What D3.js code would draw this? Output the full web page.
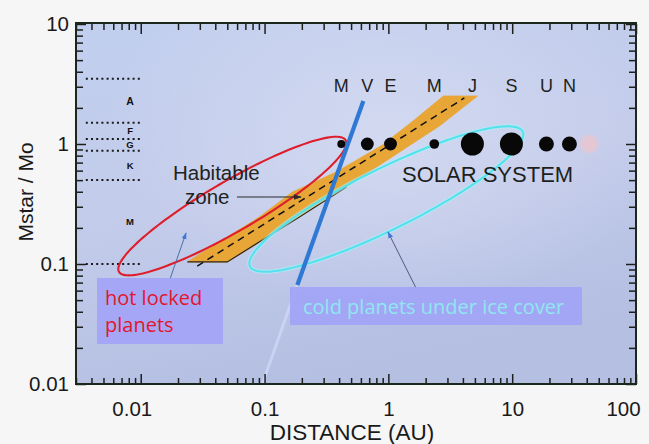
<!DOCTYPE html>
<html>
<head>
<meta charset="utf-8">
<script src="https://cdn.jsdelivr.net/npm/d3@7"></script>
<style>
  html, body { margin: 0; padding: 0; background: #f6f6f7; }
  svg { display: block; }
</style>
</head>
<body>
<svg id="chart" width="649" height="444"></svg>
<script>
// Orbital distance (AU) against stellar mass (solar masses), log-log.
const xTickValues = [0.01, 0.1, 1, 10, 100];
const xTickLabels = ["0.01", "0.1", "1", "10", "100"];
const yTickValues = [0.01, 0.1, 1, 10];
const yTickLabels = ["0.01", "0.1", "1", "10"];

// Spectral classes: mass boundaries and names
const classBounds = [3.5, 1.5, 1.1, 0.88, 0.5, 0.1];
const classNames = ["A", "F", "G", "K", "M"];
const classLineDist = [0.0036, 0.0102];
const classLabelDist = 0.0082;

// Solar system planets (Sun = 1 solar mass)
const planetNames = ["M", "V", "E", "M", "J", "S", "U", "N"];
const planetDist = [0.417, 0.676, 1.04, 2.35, 4.77, 9.86, 18.9, 29];
const planetRelSize = [0.35, 0.56, 0.56, 0.42, 1, 1, 0.65, 0.65];
const sunMass = 1;
const plutoDist = 42;

// Habitable zone band: inner edge (bottom to top) and outer edge (top to bottom)
const hzInnerDist = [0.0238, 0.0338, 0.0907, 0.168, 0.380, 0.895, 1.62, 2.78];
const hzInnerMass = [0.104, 0.131, 0.246, 0.398, 0.585, 0.98, 1.585, 2.51];
const hzOuterDist = [5.24, 2.58, 1.23, 0.458, 0.191, 0.050];
const hzOuterMass = [2.51, 1.41, 0.858, 0.438, 0.246, 0.104];
const hzCenterDist = [0.0286, 4.11];
const hzCenterMass = [0.096, 2.42];

// Tidal locking limit
const lockDist = [0.628, 0.184];
const lockMass = [2.28, 0.0668];
const lockFaintDist = [0.184, 0.096];
const lockFaintMass = [0.0668, 0.01];

// Planet regimes outlined as ellipses in log space (centre, semi-axes in decades, tilt in degrees)
const hotRegion = { dist: 0.0549, mass: 0.304, a: 1.067, b: 0.207, angle: 31.0 };
const coldRegion = { dist: 0.963, mass: 0.348, a: 1.236, b: 0.252, angle: 27.1 };

const svg = d3.select("#chart");

const x = d3.scaleLog().domain([0.003, 100]).range([76, 636]);
const y = d3.scaleLog().domain([0.01, 10]).range([384, 24]);
const r = d3.scaleLinear().domain([0, 1]).range([0, 11.5]);

const sansFont = "'Liberation Sans', Arial, Helvetica, sans-serif";
const labelFont = "'Open Sans', 'Noto Sans', sans-serif";
const ink = "#1d1f1d";

const defs = svg.append("defs");
const bg = defs.append("linearGradient").attr("id", "bg")
  .attr("x1", 0).attr("y1", 0).attr("x2", 0.3).attr("y2", 1);
bg.append("stop").attr("offset", "0%").attr("stop-color", "#c1cfee");
bg.append("stop").attr("offset", "55%").attr("stop-color", "#c3cbea");
bg.append("stop").attr("offset", "100%").attr("stop-color", "#b4bfe2");
const glow = defs.append("radialGradient").attr("id", "glow")
  .attr("cx", 0.55).attr("cy", 0.3).attr("r", 0.5);
glow.append("stop").attr("offset", "0%").attr("stop-color", "#d6dcf2").attr("stop-opacity", 0.8);
glow.append("stop").attr("offset", "100%").attr("stop-color", "#d6dcf2").attr("stop-opacity", 0);
const blur = defs.append("filter").attr("id", "soft").attr("x", "-50%").attr("y", "-50%").attr("width", "200%").attr("height", "200%");
blur.append("feGaussianBlur").attr("stdDeviation", 1.8);

function arrowMarker(id, color) {
  defs.append("marker").attr("id", id)
    .attr("viewBox", "0 0 10 10").attr("refX", 9).attr("refY", 5)
    .attr("markerWidth", 7).attr("markerHeight", 7).attr("orient", "auto")
    .append("path").attr("d", "M0,1.5 L10,5 L0,8.5 Z").attr("fill", color);
}
arrowMarker("arrDark", "#2b2b2b");
arrowMarker("arrBlue", "#3f78d6");

const [x0, x1] = x.range();
const [yb, yt] = y.range();

// Plot background
svg.append("rect").attr("x", x0).attr("y", yt).attr("width", x1 - x0).attr("height", yb - yt).attr("fill", "url(#bg)");
svg.append("rect").attr("x", x0).attr("y", yt).attr("width", x1 - x0).attr("height", yb - yt).attr("fill", "url(#glow)");

const line = d3.line().x(d => x(d[0])).y(d => y(d[1]));
const zip = (a, b) => a.map((v, i) => [v, b[i]]);

// Spectral class boundaries
svg.append("g").selectAll("line").data(classBounds).join("line")
  .attr("x1", x(classLineDist[0])).attr("x2", x(classLineDist[1]))
  .attr("y1", d => y(d)).attr("y2", d => y(d))
  .attr("stroke", "#1a1a1a").attr("stroke-width", 2).attr("stroke-dasharray", "2,3.2");
svg.append("g").selectAll("text").data(classNames).join("text")
  .attr("x", x(classLabelDist))
  .attr("y", (d, i) => y(Math.sqrt(classBounds[i] * classBounds[i + 1])))
  .attr("dy", "0.36em").attr("text-anchor", "middle")
  .attr("font-family", sansFont).attr("font-weight", "bold")
  .attr("font-size", (d, i) => i === 0 ? 10.5 : 9.5).attr("fill", "#111")
  .text(d => d);

// Habitable zone band
const hzPoly = zip(hzInnerDist, hzInnerMass).concat(zip(hzOuterDist, hzOuterMass));
svg.append("path").attr("d", line(hzPoly) + "Z")
  .attr("fill", "#e8a636").attr("stroke", "#e8a636").attr("stroke-width", 0.8);
const outerLower = zip(hzOuterDist, hzOuterMass).slice(3);
svg.append("path").attr("d", line(outerLower.concat([[hzInnerDist[0], hzInnerMass[0]]])))
  .attr("fill", "none").attr("stroke", "#2a2418").attr("stroke-width", 1.2);
svg.append("path").attr("d", line(zip(hzCenterDist, hzCenterMass)))
  .attr("fill", "none").attr("stroke", "#111").attr("stroke-width", 1.5).attr("stroke-dasharray", "7,5");

// Regime ellipses
function ellipsePoints(e, n = 160) {
  const th = e.angle * Math.PI / 180;
  const lx = Math.log10(e.dist), ly = Math.log10(e.mass);
  return d3.range(n).map(i => {
    const t = i / n * 2 * Math.PI;
    const u = e.a * Math.cos(t), v = e.b * Math.sin(t);
    return [Math.pow(10, lx + u * Math.cos(th) - v * Math.sin(th)),
            Math.pow(10, ly + u * Math.sin(th) + v * Math.cos(th))];
  });
}
const closed = d3.line().x(d => x(d[0])).y(d => y(d[1])).curve(d3.curveLinearClosed);
svg.append("path").attr("d", closed(ellipsePoints(hotRegion)))
  .attr("fill", "none").attr("stroke", "#de1e2b").attr("stroke-width", 2.1);
svg.append("path").attr("d", closed(ellipsePoints(coldRegion)))
  .attr("fill", "none").attr("stroke", "#a9f2f7").attr("stroke-width", 4.5).attr("stroke-opacity", 0.55);
svg.append("path").attr("d", closed(ellipsePoints(coldRegion)))
  .attr("fill", "none").attr("stroke", "#52e2ee").attr("stroke-width", 2);

// Solar system
svg.append("circle").attr("cx", x(plutoDist)).attr("cy", y(sunMass)).attr("r", 9)
  .attr("fill", "#eac6cf").attr("opacity", 0.85).attr("filter", "url(#soft)");
svg.append("g").selectAll("circle").data(planetDist).join("circle")
  .attr("cx", d => x(d)).attr("cy", y(sunMass)).attr("r", (d, i) => r(planetRelSize[i]))
  .attr("fill", "#080808");
svg.append("g").selectAll("text").data(planetNames).join("text")
  .attr("x", (d, i) => x(planetDist[i])).attr("y", 92)
  .attr("text-anchor", "middle").attr("font-family", sansFont).attr("font-size", 18)
  .attr("fill", ink).text(d => d);
svg.append("text").attr("x", 402).attr("y", 182)
  .attr("font-family", sansFont).attr("font-size", 22).attr("fill", ink).text("SOLAR SYSTEM");

// Tidal locking limit
svg.append("path").attr("d", line(zip(lockFaintDist, lockFaintMass)))
  .attr("stroke", "#cfd6f6").attr("stroke-width", 3).attr("stroke-opacity", 0.8).attr("fill", "none");
svg.append("path").attr("d", line(zip(lockDist, lockMass)))
  .attr("stroke", "#2f78d3").attr("stroke-width", 4.2).attr("fill", "none");

// Habitable zone label and pointer
svg.append("text").attr("x", 173).attr("y", 180)
  .attr("font-family", sansFont).attr("font-size", 20.5).attr("fill", "#222").text("Habitable");
svg.append("text").attr("x", 185).attr("y", 204)
  .attr("font-family", sansFont).attr("font-size", 20.5).attr("fill", "#222").text("zone");
svg.append("line").attr("x1", 237).attr("y1", 197).attr("x2", 301).attr("y2", 197)
  .attr("stroke", "#2b2b2b").attr("stroke-width", 1.1).attr("marker-end", "url(#arrDark)");

// Regime labels
svg.append("line").attr("x1", 170).attr("y1", 279).attr("x2", 186).attr("y2", 233)
  .attr("stroke", "#4f6ea8").attr("stroke-width", 1).attr("marker-end", "url(#arrBlue)");
svg.append("line").attr("x1", 416).attr("y1", 288).attr("x2", 388).attr("y2", 232)
  .attr("stroke", "#4c5a7e").attr("stroke-width", 1).attr("marker-end", "url(#arrBlue)");

svg.append("rect").attr("x", 97).attr("y", 278).attr("width", 126).attr("height", 66)
  .attr("fill", "#a3a5f7").attr("opacity", 0.95);
svg.append("text").attr("x", 105).attr("y", 305)
  .attr("font-family", labelFont).attr("font-size", 20).attr("fill", "#e3162b").text("hot locked");
svg.append("text").attr("x", 105).attr("y", 332)
  .attr("font-family", labelFont).attr("font-size", 20).attr("fill", "#e3162b").text("planets");

svg.append("rect").attr("x", 290).attr("y", 287).attr("width", 292).attr("height", 38)
  .attr("fill", "#a1a4f6").attr("opacity", 0.93);
svg.append("text").attr("x", 303).attr("y", 314)
  .attr("font-family", labelFont).attr("font-size", 20).attr("fill", "#8fe7ef")
  .text("cold planets under ice cover");

// Axes: ticks point inward on all four sides
function minorTicks(domain) {
  const out = [];
  const lo = Math.floor(Math.log10(domain[0])), hi = Math.ceil(Math.log10(domain[1]));
  for (let e = lo; e < hi; e++) for (let k = 2; k <= 9; k++) {
    const v = k * Math.pow(10, e);
    if (v >= domain[0] * 0.999 && v <= domain[1] * 1.001) out.push(v);
  }
  return out;
}
const xMinor = minorTicks(x.domain());
const yMinor = minorTicks(y.domain());

function styleAxis(g) {
  g.select(".domain").remove();
  g.selectAll(".tick line").attr("stroke", ink).attr("stroke-width", 1.5);
  g.selectAll("text").attr("font-family", sansFont).attr("font-size", 20.5).attr("fill", "#1a1a1a");
}
const fmtX = d => xTickLabels[xTickValues.indexOf(d)];
const fmtY = d => yTickLabels[yTickValues.indexOf(d)];

const xAxisG = svg.append("g").attr("transform", `translate(0,${yb})`)
  .call(d3.axisBottom(x).tickValues(xTickValues).tickFormat(fmtX).tickSize(-10).tickPadding(17)).call(styleAxis);
// outermost labels sit slightly inside the frame ends
xAxisG.selectAll(".tick text").attr("dx", d => d === 0.01 ? -9 : d === 100 ? -13 : 0);
svg.append("g").attr("transform", `translate(0,${yb})`)
  .call(d3.axisBottom(x).tickValues(xMinor).tickFormat("").tickSize(-6)).call(styleAxis);
svg.append("g").attr("transform", `translate(0,${yt})`)
  .call(d3.axisTop(x).tickValues(xTickValues).tickFormat("").tickSize(-10)).call(styleAxis);
svg.append("g").attr("transform", `translate(0,${yt})`)
  .call(d3.axisTop(x).tickValues(xMinor).tickFormat("").tickSize(-6)).call(styleAxis);

svg.append("g").attr("transform", `translate(${x0},0)`)
  .call(d3.axisLeft(y).tickValues(yTickValues).tickFormat(fmtY).tickSize(-10).tickPadding(7)).call(styleAxis);
svg.append("g").attr("transform", `translate(${x0},0)`)
  .call(d3.axisLeft(y).tickValues(yMinor).tickFormat("").tickSize(-7)).call(styleAxis);
svg.append("g").attr("transform", `translate(${x1},0)`)
  .call(d3.axisRight(y).tickValues(yTickValues).tickFormat("").tickSize(-10)).call(styleAxis);
svg.append("g").attr("transform", `translate(${x1},0)`)
  .call(d3.axisRight(y).tickValues(yMinor).tickFormat("").tickSize(-7)).call(styleAxis);

// Frame
svg.append("rect").attr("x", x0).attr("y", yt - 1).attr("width", x1 - x0).attr("height", yb - yt + 1)
  .attr("fill", "none").attr("stroke", "#1b261d").attr("stroke-width", 2);

// Axis titles
svg.append("text").attr("x", 352).attr("y", 440).attr("text-anchor", "middle")
  .attr("font-family", sansFont).attr("font-size", 22.5).attr("fill", "#1a1a1a").text("DISTANCE (AU)");
svg.append("text").attr("transform", "translate(33,192) rotate(-90)").attr("text-anchor", "middle")
  .attr("font-family", sansFont).attr("font-size", 21).attr("fill", "#1a1a1a").text("Mstar / Mo");
</script>
</body>
</html>
